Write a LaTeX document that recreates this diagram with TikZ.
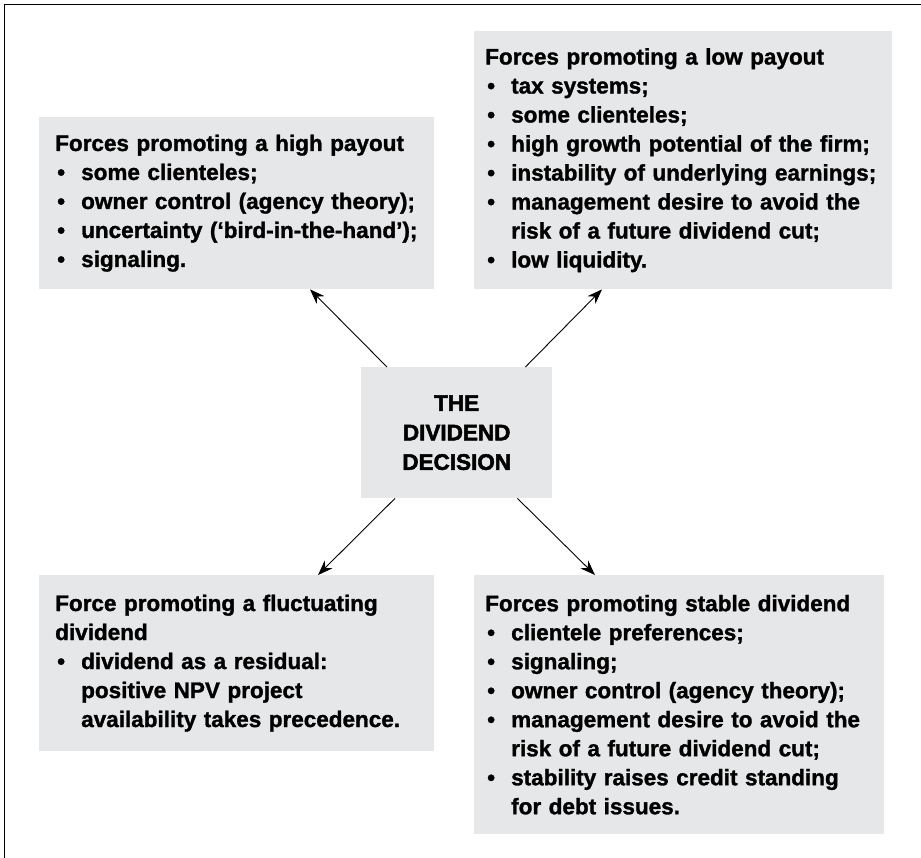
\documentclass[tikz,border=0pt]{standalone}
\usepackage{fontspec}
\setmainfont{Liberation Sans}[BoldFeatures={FakeBold=1.3}]
\newfontfamily\heavyfont{Liberation Sans Bold}[FakeBold=2.2]
\usetikzlibrary{arrows.meta}
\definecolor{boxgray}{RGB}{230,231,233}
\newcommand{\bitem}{\makebox[26pt][l]{\hspace{2pt}\textbullet}}
\newcommand{\bcont}{\hspace*{26pt}}

\begin{document}
\begin{tikzpicture}[x=1pt,y=-1pt,>={Stealth[length=15pt,width=11pt]},
  font=\bfseries\fontsize{22.5}{29}\selectfont,
  box/.style={fill=boxgray,anchor=north west,align=left,inner ysep=0pt},
  arr/.style={->,line width=0.9pt}]
\useasboundingbox (0,0) rectangle (921,858);
\draw[line width=1.5pt] (4.5,858) -- (4.5,4.5) -- (921,4.5);
\node[box,inner xsep=16pt,text width=363pt,minimum height=172pt] (high) at (39,117)
 {Forces promoting a high payout\\\bitem some clienteles;\\\bitem owner control (agency theory);\\\bitem uncertainty (‘bird-in-the-hand’);\\\bitem signaling.};
\node[box,inner xsep=11pt,text width=396pt,minimum height=258pt] (low) at (474,31)
 {Forces promoting a low payout\\\bitem tax systems;\\\bitem some clienteles;\\\bitem high growth potential of the firm;\\\bitem instability of underlying earnings;\\\bitem management desire to avoid the\\\bcont risk of a future dividend cut;\\\bitem low liquidity.};
\node[box,align=center,inner xsep=0pt,text width=191pt,minimum height=131pt,font=\heavyfont\fontsize{22.5}{29.5}\selectfont] (dec) at (361,367)
 {THE\\DIVIDEND\\DECISION};
\node[box,inner xsep=16pt,text width=363pt,minimum height=176pt] (fluct) at (39,575)
 {Force promoting a fluctuating\\dividend\\\bitem dividend as a residual:\\\bcont positive NPV project\\\bcont availability takes precedence.};
\node[box,inner xsep=11pt,text width=388pt,minimum height=259pt] (stable) at (474,575)
 {Forces promoting stable dividend\\\bitem clientele preferences;\\\bitem signaling;\\\bitem owner control (agency theory);\\\bitem management desire to avoid the\\\bcont risk of a future dividend cut;\\\bitem stability raises credit standing\\\bcont for debt issues.};
\draw[arr] ([xshift=26pt]dec.north west) -- ([xshift=271pt]high.south west);
\draw[arr] ([xshift=-27pt]dec.north east) -- ([xshift=128pt]low.south west);
\draw[arr] ([xshift=34pt]dec.south west) -- ([xshift=279pt]fluct.north west);
\draw[arr] ([xshift=-35pt]dec.south east) -- ([xshift=121pt]stable.north west);
\end{tikzpicture}
\end{document}
